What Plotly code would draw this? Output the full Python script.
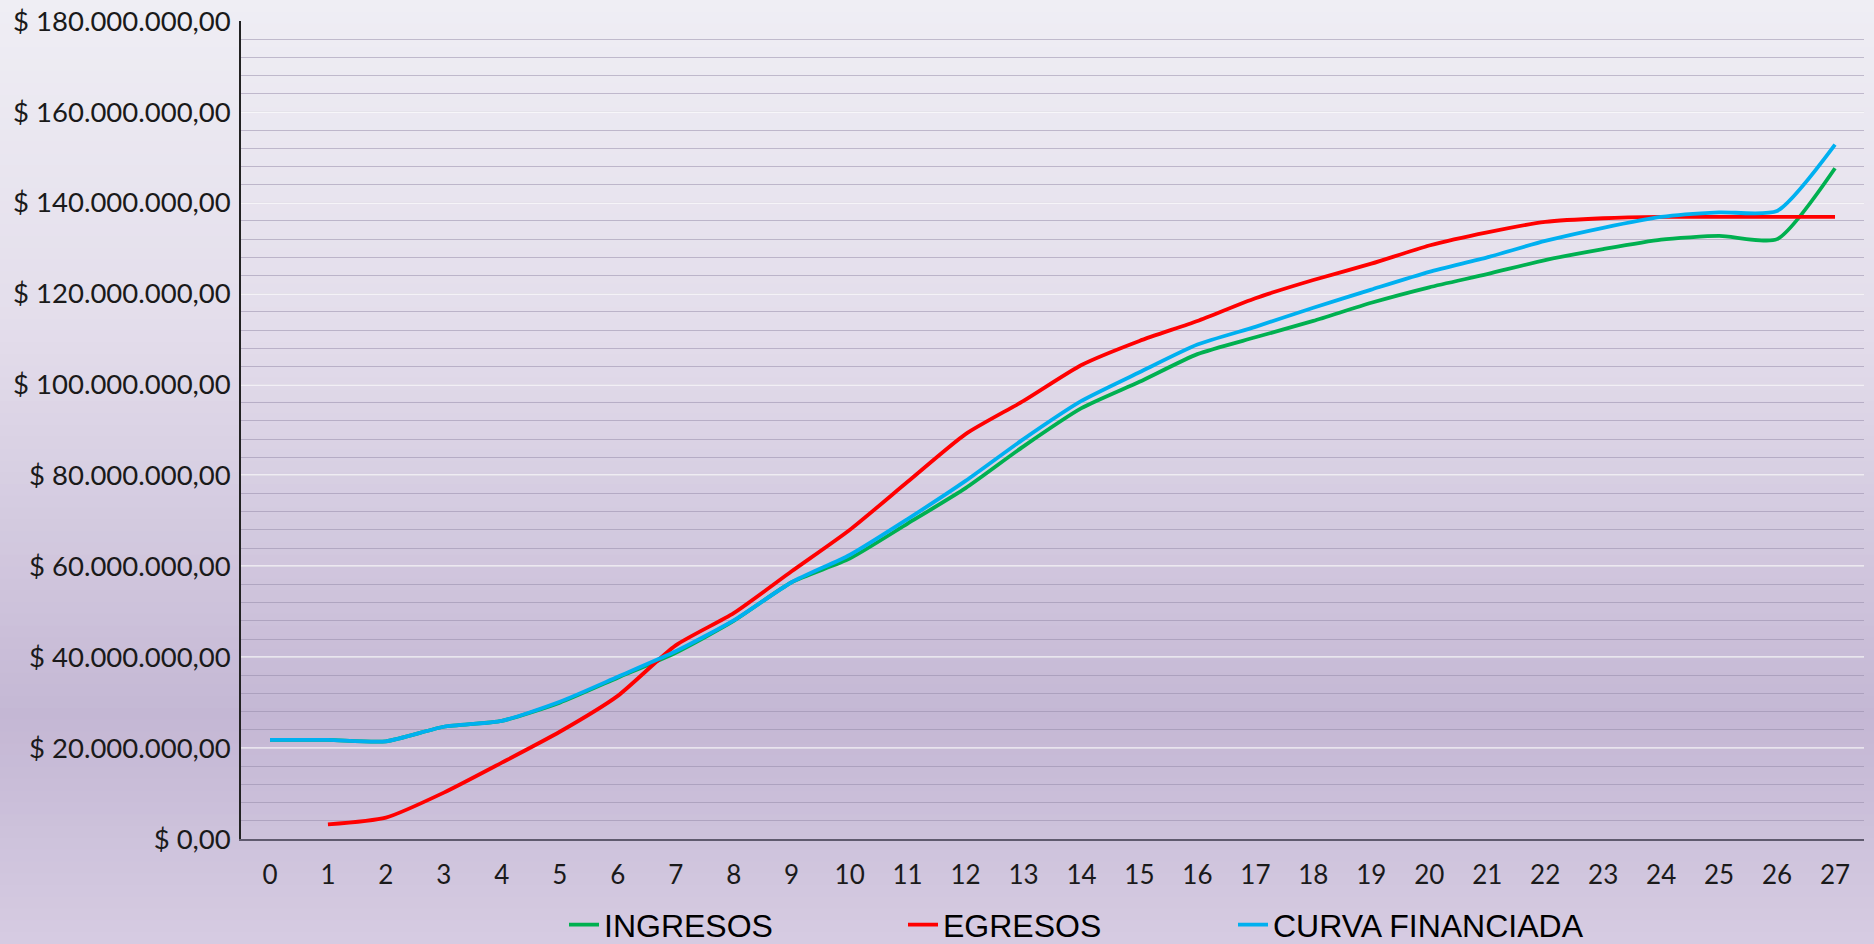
import plotly.graph_objects as go

periods = list(range(28))
ingresos = [21.8, 21.8, 21.5, 24.7, 26.0, 30.0, 35.5, 41.0, 48.0, 56.5, 61.7, 69.4, 77.2, 86.4,
            94.8, 100.6, 106.7, 110.4, 114.0, 118.0, 121.4, 124.3, 127.4, 129.8, 131.9, 132.7, 132.0, 147.6]
egresos = [None, 3.2, 4.7, 10.2, 16.8, 23.6, 31.5, 42.6, 49.7, 58.9, 68.0, 78.6, 89.1, 96.4,
           104.3, 109.6, 114.0, 119.0, 123.0, 126.6, 130.6, 133.5, 135.8, 136.6, 136.9, 136.9, 136.9, 136.9]
curva = [21.8, 21.8, 21.5, 24.7, 26.0, 30.2, 35.7, 41.3, 48.1, 56.5, 62.5, 70.4, 78.8, 88.0,
         96.4, 102.7, 108.8, 112.7, 116.9, 120.9, 124.8, 128.0, 131.6, 134.5, 136.9, 137.9, 138.2, 152.8]
series_names = ["INGRESOS", "EGRESOS", "CURVA FINANCIADA"]
y_tick_vals = [0, 20, 40, 60, 80, 100, 120, 140, 160, 180]  # millions
y_tick_text = ["$ 0,00", "$ 20.000.000,00", "$ 40.000.000,00", "$ 60.000.000,00", "$ 80.000.000,00",
               "$ 100.000.000,00", "$ 120.000.000,00", "$ 140.000.000,00", "$ 160.000.000,00",
               "$ 180.000.000,00"]

M = 1_000_000
def scale(vals):
    return [None if v is None else v * M for v in vals]

W, H = 1874, 944
ml, mr, mt, mb = 241, 10, 21, 105
pw, ph = W - ml - mr, H - mt - mb

colors = ["#00B050", "#FF0000", "#00B0F0"]
legend_ids = ["legend", "legend2", "legend3"]
legend_px = [564, 903, 1233]  # left edge of each legend entry, in pixels

fig = go.Figure()
for name, vals, col, lg in zip(series_names, [ingresos, egresos, curva], colors, legend_ids):
    fig.add_trace(go.Scatter(
        x=periods, y=scale(vals), mode="lines", name=name, legend=lg,
        line=dict(color=col, width=3.8, shape="spline", smoothing=0.6),
        connectgaps=False,
    ))

# background gradient bands (paper coords extended to full figure)
stops = [(0.0, (239, 238, 244)), (0.35, (227, 221, 235)), (0.76, (196, 183, 212)), (1.0, (214, 204, 226))]
def col_at(t):
    for (t0, c0), (t1, c1) in zip(stops[:-1], stops[1:]):
        if t0 <= t <= t1:
            f = (t - t0) / (t1 - t0) if t1 > t0 else 0
            return tuple(round(a + (b - a) * f) for a, b in zip(c0, c1))
    return stops[-1][1]

shapes = []
N = 80
for i in range(N):
    top_px = H * i / N
    bot_px = H * (i + 1) / N + 1
    t = (i + 0.5) / N
    c = col_at(t)
    y_top = 1 - (top_px - mt) / ph
    y_bot = 1 - (bot_px - mt) / ph
    shapes.append(dict(type="rect", xref="paper", yref="paper", x0=-ml / pw - 0.01, x1=1 + mr / pw + 0.01,
                       y0=y_bot, y1=y_top, fillcolor="rgb(%d,%d,%d)" % c, line=dict(width=0), layer="below"))

legend_font = dict(family="Liberation Sans, Arial", size=32, color="#000000")
legend_layout = {}
for lg, px in zip(legend_ids, legend_px):
    legend_layout[lg] = dict(orientation="h", x=(px - ml) / pw, xanchor="left", y=-0.105, yanchor="middle",
                             font=legend_font, bgcolor="rgba(0,0,0,0)")

fig.update_layout(
    width=W, height=H,
    margin=dict(l=ml, r=mr, t=mt, b=mb, autoexpand=False),
    paper_bgcolor="#d8d0e2",
    plot_bgcolor="rgba(0,0,0,0)",
    shapes=shapes,
    showlegend=True,
    xaxis=dict(
        type="linear", range=[-0.5, 27.5], tickmode="array", tickvals=periods,
        ticktext=[str(p) for p in periods], showgrid=False, zeroline=False, automargin=False,
        showline=True, linecolor="#5f5a6e", linewidth=2, ticks="", ticklabelstandoff=12,
        tickfont=dict(family="Lato, sans-serif", size=26, color="#1a1a1a"),
    ),
    yaxis=dict(
        range=[0, 180 * M], tickmode="array", tickvals=[v * M for v in y_tick_vals], ticktext=y_tick_text,
        showgrid=True, gridcolor="rgba(255,255,255,0.6)", gridwidth=1.5, automargin=False,
        minor=dict(dtick=4 * M, showgrid=True, gridcolor="rgba(145,135,165,0.5)", gridwidth=1.2),
        zeroline=False, showline=True, linecolor="#222222", linewidth=1.5, ticks="", ticklabelstandoff=3,
        tickfont=dict(family="Lato, sans-serif", size=27.5, color="#1a1a1a"),
    ),
    **legend_layout,
)
fig.write_html("out.html", config={"displayModeBar": False},
               post_script="document.body.style.margin='0';")
